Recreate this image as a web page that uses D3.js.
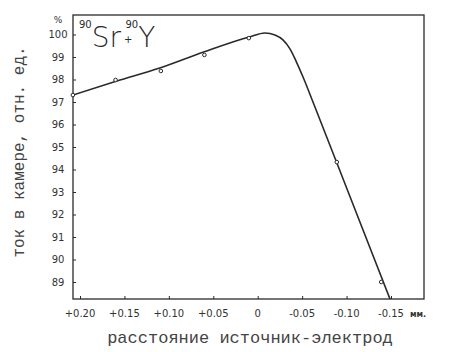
<!DOCTYPE html>
<html>
<head>
<meta charset="utf-8">
<script src="https://cdn.jsdelivr.net/npm/d3@7"></script>
<style>
  body { margin: 0; background: #fff; }
  svg { display: block; }
</style>
</head>
<body>
<div id="chart"></div>
<script>
// Measured points (distance source-electrode, mm / chamber current, %)
const pointX = [0.208, 0.160, 0.109, 0.060, 0.010, -0.089, -0.139];
const pointY = [97.31, 97.98, 98.38, 99.09, 99.84, 94.33, 89.0];

// Hand-drawn curve through the points
const curveX = [0.208, 0.1585, 0.1103, 0.0609, 0.0098, -0.0082, -0.0194, -0.0284, -0.0363, -0.0431, -0.0510, -0.0622, -0.1038, -0.1489];
const curveY = [97.31, 97.93, 98.51, 99.22, 99.89, 100.07, 99.98, 99.76, 99.36, 98.82, 98.11, 97.00, 92.80, 88.24];

const xTicks = [0.20, 0.15, 0.10, 0.05, 0, -0.05, -0.10, -0.15];
const xTickLabels = ['+0.20', '+0.15', '+0.10', '+0.05', '0', '-0.05', '-0.10', '-0.15'];
const yTicks = [100, 99, 98, 97, 96, 95, 94, 93, 92, 91, 90, 89];

const W = 463, H = 352;
const frame = { left: 73, right: 424, top: 15, bottom: 299 };

const svg = d3.select('#chart').append('svg')
  .attr('width', W)
  .attr('height', H);

const x = d3.scaleLinear().domain([0.2, -0.15]).range([80, 391]);
const y = d3.scaleLinear().domain([100, 89]).range([34.5, 282]);

const ink = '#2a2a2a';

// Frame
svg.append('rect')
  .attr('x', frame.left)
  .attr('y', frame.top)
  .attr('width', frame.right - frame.left)
  .attr('height', frame.bottom - frame.top)
  .attr('fill', 'none')
  .attr('stroke', ink)
  .attr('stroke-width', 1.3);

// Y axis ticks (pointing inward)
const yAxis = svg.append('g')
  .attr('transform', `translate(${frame.left},0)`)
  .call(d3.axisRight(y).tickValues(yTicks).tickSize(3).tickFormat(''));
yAxis.select('.domain').remove();
yAxis.selectAll('line').attr('stroke', ink);

svg.selectAll('.ylab')
  .data(yTicks)
  .enter()
  .append('text')
  .attr('class', 'ylab')
  .attr('x', 58)
  .attr('y', d => y(d))
  .attr('dy', '0.35em')
  .attr('text-anchor', 'middle')
  .style('font-family', 'DejaVu Sans, sans-serif')
  .style('font-size', '10px')
  .style('fill', '#333')
  .text(d => d);

svg.append('text')
  .attr('x', 58)
  .attr('y', 23)
  .attr('text-anchor', 'middle')
  .style('font-family', 'DejaVu Sans, sans-serif')
  .style('font-size', '9px')
  .style('fill', '#333')
  .text('%');

// X axis ticks (pointing inward)
const xAxis = svg.append('g')
  .attr('transform', `translate(0,${frame.bottom})`)
  .call(d3.axisTop(x).tickValues(xTicks).tickSize(3).tickFormat(''));
xAxis.select('.domain').remove();
xAxis.selectAll('line').attr('stroke', ink);

svg.selectAll('.xlab')
  .data(xTicks)
  .enter()
  .append('text')
  .attr('class', 'xlab')
  .attr('x', d => x(d))
  .attr('y', 317)
  .attr('text-anchor', 'middle')
  .style('font-family', 'DejaVu Sans, sans-serif')
  .style('font-size', '10px')
  .style('fill', '#333')
  .text((d, i) => xTickLabels[i]);

svg.append('text')
  .attr('x', 418)
  .attr('y', 317)
  .attr('text-anchor', 'middle')
  .style('font-family', 'DejaVu Sans, sans-serif')
  .style('font-size', '8px')
  .style('font-weight', 'bold')
  .style('fill', '#333')
  .text('мм.');

// Curve
svg.append('defs').append('clipPath')
  .attr('id', 'plot')
  .append('rect')
  .attr('x', frame.left).attr('y', frame.top)
  .attr('width', frame.right - frame.left).attr('height', frame.bottom - frame.top);

const line = d3.line()
  .x(d => x(d[0]))
  .y(d => y(d[1]))
  .curve(d3.curveMonotoneX);

svg.append('path')
  .datum(curveX.map((v, i) => [v, curveY[i]]))
  .attr('clip-path', 'url(#plot)')
  .attr('fill', 'none')
  .attr('stroke', ink)
  .attr('stroke-width', 1.6)
  .attr('d', line);

// Points
svg.selectAll('.pt')
  .data(pointX.map((v, i) => [v, pointY[i]]))
  .enter()
  .append('circle')
  .attr('class', 'pt')
  .attr('cx', d => x(d[0]))
  .attr('cy', d => y(d[1]))
  .attr('r', 1.8)
  .attr('fill', '#fff')
  .attr('stroke', ink)
  .attr('stroke-width', 1);

// Handwritten isotope label
const iso = svg.append('text')
  .attr('x', 79)
  .attr('y', 47)
  .style('font-family', 'DejaVu Sans, sans-serif')
  .style('fill', ink);
iso.append('tspan').attr('font-size', '10px').attr('dy', '-19').text('90');
iso.append('tspan').attr('font-size', '28px').attr('dy', '19').style('font-weight', 300).text('Sr');
iso.append('tspan').attr('font-size', '10px').attr('dx', '3').attr('dy', '-4').text('+');
iso.append('tspan').attr('font-size', '10px').attr('dx', '-7').attr('dy', '-15').text('90');
iso.append('tspan').attr('font-size', '28px').attr('dy', '19').style('font-weight', 300).text('Y');

// Axis titles (typewriter)
svg.append('text')
  .attr('transform', 'translate(24,152) rotate(-90)')
  .attr('text-anchor', 'middle')
  .style('font-family', 'Liberation Mono, DejaVu Sans Mono, monospace')
  .style('font-size', '16px')
  .style('fill', '#444')
  .text('ток в камере, отн. ед.');

svg.append('text')
  .attr('x', 250)
  .attr('y', 343)
  .attr('text-anchor', 'middle')
  .style('font-family', 'Liberation Mono, DejaVu Sans Mono, monospace')
  .style('font-size', '17px')
  .style('fill', '#444')
  .text('расстояние источник-электрод');
</script>
</body>
</html>
